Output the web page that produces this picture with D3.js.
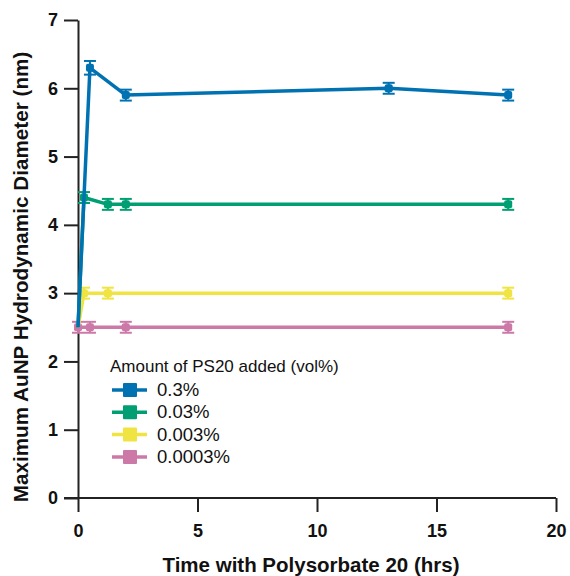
<!DOCTYPE html>
<html>
<head>
<meta charset="utf-8">
<script src="https://cdn.jsdelivr.net/npm/d3@7"></script>
<style>
  body { margin: 0; background: #fff; }
  svg text { font-family: "Liberation Sans", Arial, sans-serif; }
</style>
</head>
<body>
<script>
// data
var seriesNames = ["0.3%", "0.03%", "0.003%", "0.0003%"];
var seriesColors = ["#0072b2", "#009e73", "#f0e442", "#cc79a7"];

var timeBlue = [0, 0.5, 2, 13, 18];
var diamBlue = [2.5, 6.3, 5.9, 6.0, 5.9];
var errBlue = [0, 0.1, 0.08, 0.08, 0.08];

var timeGreen = [0, 0.25, 1.25, 2, 18];
var diamGreen = [2.5, 4.4, 4.3, 4.3, 4.3];
var errGreen = [0, 0.08, 0.08, 0.08, 0.08];

var timeYellow = [0, 0.25, 1.25, 18];
var diamYellow = [2.5, 3.0, 3.0, 3.0];
var errYellow = [0, 0.08, 0.08, 0.08];

var timePink = [0, 0.5, 2, 18];
var diamPink = [2.5, 2.5, 2.5, 2.5];
var errPink = [0.08, 0.08, 0.08, 0.08];

var xTicks = [0, 5, 10, 15, 20];
var yTicks = [0, 1, 2, 3, 4, 5, 6, 7];

var width = 570, height = 576;
var margin = {left: 78, right: 14, top: 20, bottom: 78};

var series = [
    {t: timeBlue, d: diamBlue, e: errBlue},
    {t: timeGreen, d: diamGreen, e: errGreen},
    {t: timeYellow, d: diamYellow, e: errYellow},
    {t: timePink, d: diamPink, e: errPink}
].map(function (s, i) {
    return {
        name: seriesNames[i],
        color: seriesColors[i],
        pts: s.t.map(function (t, j) { return {t: t, d: s.d[j], e: s.e[j]}; })
    };
});

var svg = d3.select("body").append("svg")
    .attr("width", width)
    .attr("height", height);

var x = d3.scaleLinear()
    .domain([0, 20])
    .range([margin.left, width - margin.right]);

var y = d3.scaleLinear()
    .domain([0, 7])
    .range([height - margin.bottom, margin.top]);

var xAxis = d3.axisBottom(x)
    .tickValues(xTicks)
    .tickFormat(d3.format("d"))
    .tickSizeInner(14)
    .tickSizeOuter(0)
    .tickPadding(12);

var yAxis = d3.axisLeft(y)
    .tickValues(yTicks)
    .tickFormat(d3.format("d"))
    .tickSizeInner(14)
    .tickSizeOuter(0)
    .tickPadding(6);

var gx = svg.append("g")
    .attr("class", "x axis")
    .attr("transform", "translate(0," + y(0) + ")")
    .call(xAxis);

var gy = svg.append("g")
    .attr("class", "y axis")
    .attr("transform", "translate(" + x(0) + ",0)")
    .call(yAxis);

[gx, gy].forEach(function (g) {
    g.selectAll("path, line").attr("stroke", "#222").attr("stroke-width", 2);
    g.selectAll("text")
        .attr("fill", "#111")
        .style("font-size", "18px")
        .style("font-weight", "bold");
});
gx.select(".domain").attr("d", "M" + (x(0) - 14) + ",0H" + x(20));

svg.append("text")
    .attr("x", 311)
    .attr("y", 572)
    .attr("text-anchor", "middle")
    .style("font-size", "20.5px")
    .style("font-weight", "bold")
    .attr("fill", "#111")
    .text("Time with Polysorbate 20 (hrs)");

svg.append("text")
    .attr("transform", "translate(28,277) rotate(-90)")
    .attr("text-anchor", "middle")
    .style("font-size", "20.7px")
    .style("font-weight", "bold")
    .attr("fill", "#111")
    .text("Maximum AuNP Hydrodynamic Diameter (nm)");

var line = d3.line()
    .x(function (d) { return x(d.t); })
    .y(function (d) { return y(d.d); });

// draw in reverse so blue ends on top
var plot = svg.append("g");
series.slice().reverse().forEach(function (s) {
    var g = plot.append("g");
    g.append("path")
        .attr("d", line(s.pts))
        .attr("fill", "none")
        .attr("stroke", s.color)
        .attr("stroke-width", 3.5)
        .attr("stroke-linejoin", "round");

    var pts = s.pts.filter(function (p) { return p.e > 0; });
    var eb = g.selectAll(".eb").data(pts).enter().append("g");
    eb.append("line")
        .attr("x1", function (d) { return x(d.t); })
        .attr("x2", function (d) { return x(d.t); })
        .attr("y1", function (d) { return y(d.d - d.e); })
        .attr("y2", function (d) { return y(d.d + d.e); })
        .attr("stroke", s.color).attr("stroke-width", 2);
    [-1, 1].forEach(function (sgn) {
        eb.append("line")
            .attr("x1", function (d) { return x(d.t) - 6; })
            .attr("x2", function (d) { return x(d.t) + 6; })
            .attr("y1", function (d) { return y(d.d + sgn * d.e); })
            .attr("y2", function (d) { return y(d.d + sgn * d.e); })
            .attr("stroke", s.color).attr("stroke-width", 2);
    });
    eb.append("rect")
        .attr("x", function (d) { return x(d.t) - 4; })
        .attr("y", function (d) { return y(d.d) - 4; })
        .attr("width", 8).attr("height", 8)
        .attr("rx", 2)
        .attr("fill", s.color);
});

// legend
var legend = svg.append("g").attr("transform", "translate(110,0)");
legend.append("text")
    .attr("x", 0).attr("y", 372)
    .style("font-size", "17px")
    .attr("fill", "#111")
    .text("Amount of PS20 added (vol%)");

series.forEach(function (s, i) {
    var ly = 390 + i * 22.3;
    var item = legend.append("g");
    item.append("line")
        .attr("x1", 2).attr("x2", 37)
        .attr("y1", ly).attr("y2", ly)
        .attr("stroke", s.color).attr("stroke-width", 3.5);
    item.append("rect")
        .attr("x", 13).attr("y", ly - 7)
        .attr("width", 14).attr("height", 14)
        .attr("rx", 1)
        .attr("fill", s.color);
    item.append("text")
        .attr("x", 47).attr("y", ly + 6)
        .style("font-size", "18.5px")
        .attr("fill", "#111")
        .text(s.name);
});
</script>
</body>
</html>
